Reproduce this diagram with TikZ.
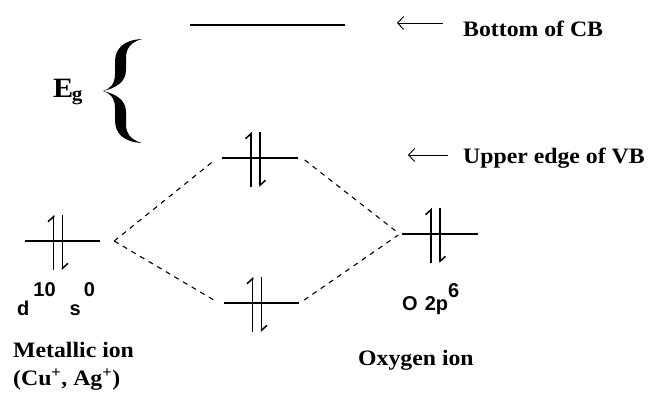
\documentclass[tikz,border=0pt]{standalone}
\usepackage{fontspec}
\setmainfont{Liberation Serif}[FakeStretch=1.08]
\newfontfamily\labsans{Liberation Sans}
\usetikzlibrary{arrows.meta}

\begin{document}
\begin{tikzpicture}[
    x=1pt, y=-1pt,
    level/.style={minimum width=75pt, minimum height=0pt, inner sep=0pt},
    levelline/.style={line width=1.8pt},
    spin/.style={line width=1.5pt, -{Straight Barb[left, length=5pt, width=11pt, line width=1.5pt]}},
    bond/.style={dashed, line width=1.1pt, dash pattern=on 5pt off 5pt},
    pointer/.style={line width=0.9pt, -{Straight Barb[length=6pt, width=13pt]}},
    tag/.style={font=\bfseries\fontsize{22}{24}\selectfont, inner sep=0pt, anchor=base west},
    orb/.style={font=\labsans\bfseries\fontsize{20}{22}\selectfont, inner sep=0pt, anchor=base west}
]
    \useasboundingbox (0,0) rectangle (651,392);

    % Conduction band edge
    \node[minimum width=155pt, minimum height=0pt, inner sep=0pt] (cb) at (267.5,25) {};
    \draw[levelline] (cb.west) -- (cb.east);

    % Energy levels
    \node[level] (metal) at (62.5,241) {};
    \node[level] (mohigh) at (260,158) {};
    \node[level] (molow) at (261.5,303) {};
    \node[level] (oxy) at (440,234) {};
    \foreach \lv in {metal, mohigh, molow, oxy} {
        \draw[levelline] (\lv.west) -- (\lv.east);
        \draw[spin] ([xshift=-9pt, yshift=-29pt]\lv.center) -- ([xshift=-9pt, yshift=26pt]\lv.center);
        \draw[spin] ([xshift=0pt, yshift=26pt]\lv.center) -- ([xshift=0pt, yshift=-29pt]\lv.center);
    }

    % Bonding / antibonding
    \draw[bond] ([xshift=14pt]metal.east) -- ([xshift=-10pt, yshift=-4pt]mohigh.west);
    \draw[bond] ([xshift=14pt]metal.east) -- ([xshift=-10pt, yshift=3pt]molow.west);
    \draw[bond] ([xshift=7pt, yshift=-2pt]mohigh.east) -- ([xshift=-4pt, yshift=1pt]oxy.west);
    \draw[bond] ([xshift=5pt, yshift=3pt]molow.east) -- ([xshift=-4pt, yshift=-1pt]oxy.west);

    % Band gap
    \node[inner sep=0pt, anchor=base west] (eg) at (53,97)
        {\fontsize{28}{30}\selectfont$\mathbf{E}_{\mathbf{g}}$};
    \fill (142,39) .. controls (124,40) and (115,48) .. (115,62) -- (115,74)
        .. controls (115,84) and (110,89) .. (103,91)
        .. controls (110,93) and (115,98) .. (115,108) -- (115,120)
        .. controls (115,134) and (124,142) .. (142,143)
        .. controls (131,140) and (126,134) .. (126,124) -- (126,112)
        .. controls (126,100) and (116,94) .. (103,91)
        .. controls (116,88) and (126,82) .. (126,70) -- (126,58)
        .. controls (126,48) and (131,42) .. (142,39) -- cycle;

    % Pointers
    \node[tag] (cblab) at (463,36) {Bottom of CB};
    \node[tag] (vblab) at (463,163) {Upper edge of VB};
    \coordinate (cbtail) at (443,23);
    \coordinate (cbtip) at (397,23);
    \coordinate (vbtail) at (448,155);
    \coordinate (vbtip) at (408,155);
    \draw[pointer] (cbtail) -- (cbtip);
    \draw[pointer] (vbtail) -- (vbtip);

    % Configurations
    \node[orb] (dconf) at (17,315)
        {d\hspace{4pt}\raisebox{19pt}{10}\hspace{14pt}s\hspace{3pt}\raisebox{19pt}{0}};
    \node[orb] (pconf) at (402,310) {O\hspace{7pt}2p\raisebox{13pt}{6}};

    % Ions
    \node[tag] (metlab) at (13,357) {Metallic ion};
    \node[tag] (metions) at (13,385) {(Cu\textsuperscript{+}, Ag\textsuperscript{+})};
    \node[tag] (oxlab) at (358,365) {Oxygen ion};

\end{tikzpicture}
\end{document}
